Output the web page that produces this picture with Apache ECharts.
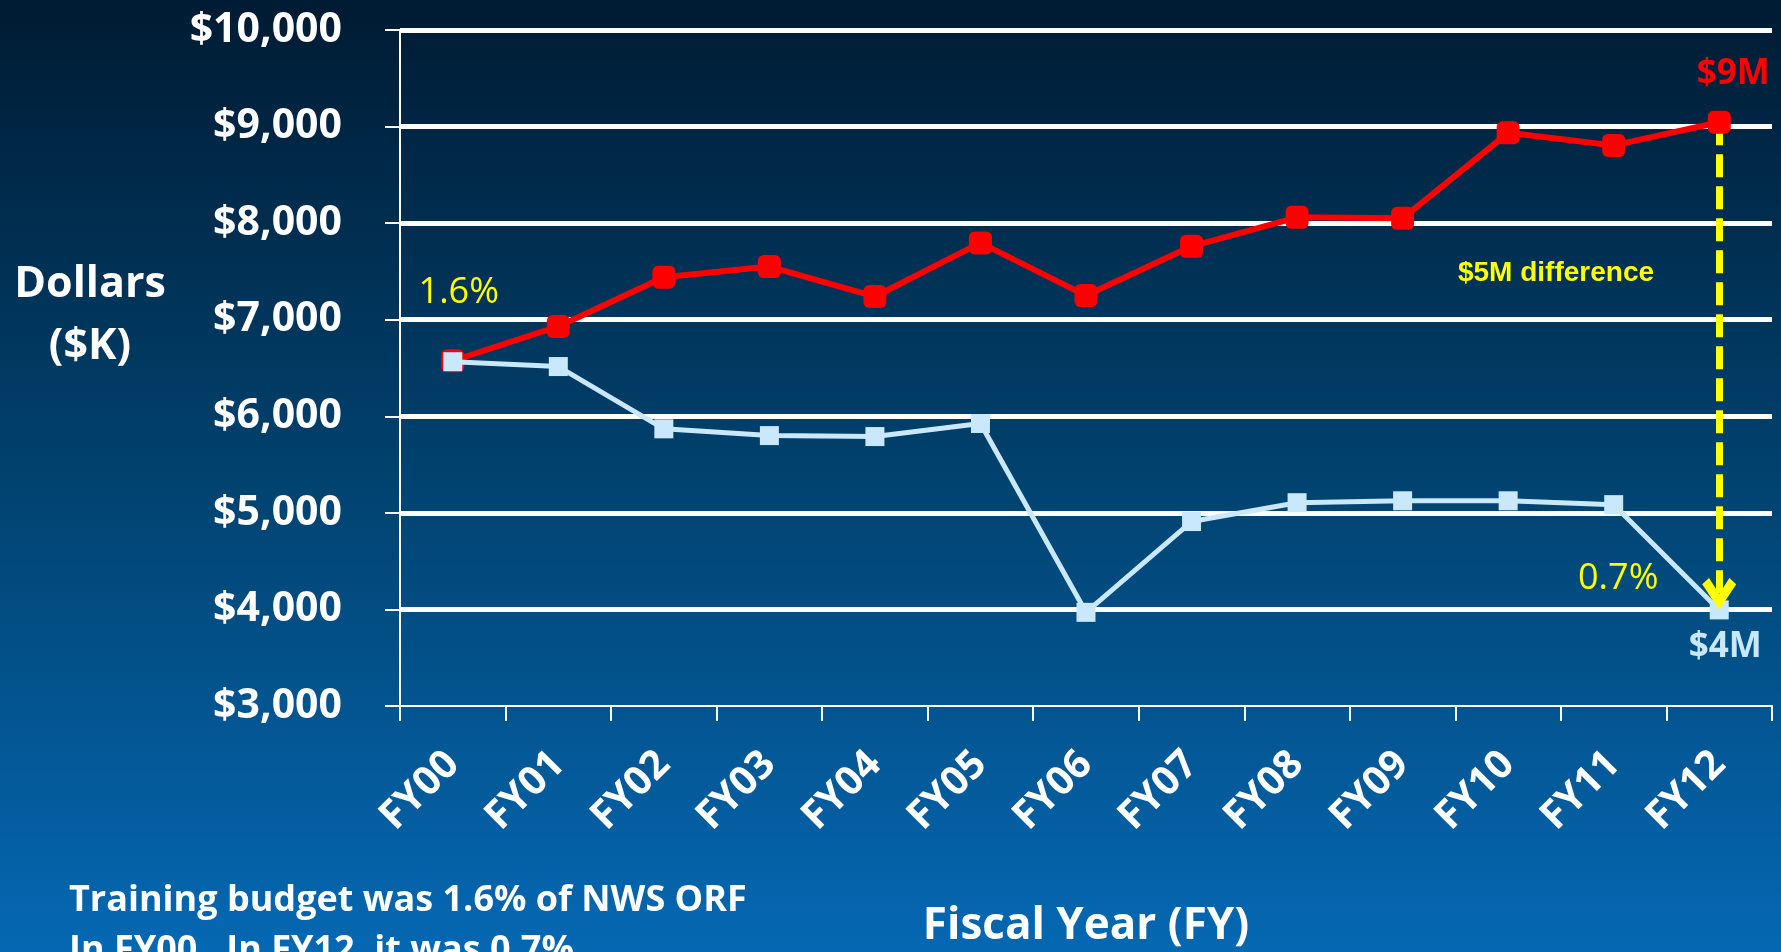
<!DOCTYPE html>
<html>
<head>
<meta charset="utf-8">
<title>NWS training budget FY00-FY12</title>
<script src="https://cdn.jsdelivr.net/npm/echarts@6/dist/echarts.min.js"></script>
<style>
  html, body { margin: 0; padding: 0; }
  #main { width: 1781px; height: 952px; }
</style>
</head>
<body>
<div id="main"></div>
<script>
// categories
const fiscalYears = ['FY00', 'FY01', 'FY02', 'FY03', 'FY04', 'FY05', 'FY06', 'FY07', 'FY08', 'FY09', 'FY10', 'FY11', 'FY12']
// $K if training had stayed at 1.6% of NWS ORF (red)
const atOnePointSix = [6575, 6930, 7440, 7550, 7240, 7795, 7250, 7760, 8060, 8050, 8935, 8805, 9045]
// actual training budget, $K (light blue)
const trainingBudget = [6565, 6515, 5870, 5800, 5790, 5925, 3970, 4910, 5105, 5125, 5125, 5085, 3995]
// y axis ticks
const yTicks = [3000, 4000, 5000, 6000, 7000, 8000, 9000, 10000]

const FONT = '"Open Sans", "Noto Sans", sans-serif'
const RED = '#ff0000'
const ICE = '#c9e8fb'
const YELLOW = '#ffff00'
const last = fiscalYears.length - 1
// open arrow head, pointing down
const CHEVRON = 'path://M0,4 L4,0 L10,10 L16,0 L20,4 L10,20 Z'

const chart = echarts.init(document.getElementById('main'))

const option = {
  animation: false,
  backgroundColor: {
    type: 'linear', x: 0, y: 0, x2: 0, y2: 1,
    colorStops: [
      { offset: 0, color: '#001b33' },
      { offset: 0.5, color: '#01426f' },
      { offset: 1, color: '#0568b3' }
    ]
  },
  grid: { left: 400, right: 9, top: 30, bottom: 246, outerBoundsMode: 'none', containLabel: false },
  xAxis: {
    type: 'category',
    data: fiscalYears,
    boundaryGap: true,
    axisLine: { show: true, lineStyle: { color: '#fff', width: 2 } },
    axisTick: { show: true, length: 15, lineStyle: { color: '#fff', width: 2 } },
    axisLabel: {
      interval: 0,
      rotate: 45,
      margin: 52,
      color: '#fff',
      fontFamily: FONT,
      fontWeight: 'bold',
      fontSize: 40
    },
    name: 'Fiscal Year (FY)',
    nameLocation: 'middle',
    nameGap: 198,
    nameTextStyle: { color: '#fff', fontFamily: FONT, fontWeight: 'bold', fontSize: 44 }
  },
  yAxis: {
    type: 'value',
    min: yTicks[0],
    max: yTicks[yTicks.length - 1],
    interval: yTicks[1] - yTicks[0],
    axisLine: { show: true, lineStyle: { color: '#fff', width: 2 } },
    axisTick: { show: true, length: 15, lineStyle: { color: '#fff', width: 2 } },
    axisLabel: {
      margin: 58,
      color: '#fff',
      fontFamily: FONT,
      fontWeight: 'bold',
      fontSize: 41,
      formatter: v => '$' + v.toLocaleString('en-US')
    },
    splitLine: {
      show: true,
      lineStyle: {
        // first line sits on the x axis, keep it hidden
        color: yTicks.map((v, i) => (i === 0 ? 'rgba(255,255,255,0)' : '#ffffff')),
        width: 5
      }
    }
  },
  series: [
    {
      name: '1.6% of NWS ORF',
      type: 'line',
      z: 2,
      symbol: 'roundRect',
      symbolSize: 23,
      lineStyle: { color: RED, width: 6 },
      itemStyle: { color: RED },
      data: atOnePointSix.map((v, i) =>
        i === last
          ? {
              value: v,
              label: {
                show: true, position: 'top', distance: 19, offset: [14, 0],
                formatter: '$9M', color: RED, fontFamily: FONT, fontWeight: 'bold', fontSize: 35
              }
            }
          : v
      ),
      // dashed drop from the red point to the blue one
      markLine: {
        silent: true,
        z: 1,
        symbol: ['none', 'none'],
        label: { show: false },
        lineStyle: { color: YELLOW, width: 7, type: [23, 9], opacity: 1 },
        data: [[
          { coord: [last, atOnePointSix[last]] },
          { coord: [last, trainingBudget[last]] }
        ]]
      }
    },
    {
      name: 'Training budget',
      type: 'line',
      z: 3,
      symbol: 'rect',
      symbolSize: 19,
      lineStyle: { color: ICE, width: 5 },
      itemStyle: { color: ICE },
      data: trainingBudget.map((v, i) =>
        i === last
          ? {
              value: v,
              label: {
                show: true, position: 'bottom', distance: 10, offset: [6, 0],
                formatter: '$4M', color: ICE, fontFamily: FONT, fontWeight: 'bold', fontSize: 35
              }
            }
          : v
      ),
      markPoint: {
        symbol: 'rect',
        symbolSize: 0,
        silent: true,
        label: { show: true, color: YELLOW, fontFamily: FONT, fontSize: 36 },
        data: [
          { coord: [0, trainingBudget[0]], label: { formatter: '1.6%', offset: [6, -69] } },
          { coord: [last, trainingBudget[last]], label: { formatter: '0.7%', offset: [-101, -31] } },
          {
            coord: [last, trainingBudget[last]],
            symbol: CHEVRON,
            symbolSize: [34, 32],
            symbolOffset: [0, -16],
            itemStyle: { color: YELLOW },
            label: { show: false }
          }
        ]
      }
    }
  ],
  graphic: [
    {
      type: 'text', x: 90, y: 316,
      style: {
        text: 'Dollars\n($K)', align: 'center', verticalAlign: 'middle', lineHeight: 62,
        fill: '#fff', font: 'bold 43px ' + FONT
      }
    },
    {
      type: 'text', x: 1556, y: 273,
      style: {
        text: '$5M difference', align: 'center', verticalAlign: 'middle',
        fill: YELLOW, font: 'bold 28px "Liberation Sans", Arial, sans-serif'
      }
    },
    {
      type: 'text', x: 69, y: 876,
      style: {
        text: 'Training budget was 1.6% of NWS ORF\nIn FY00.  In FY12, it was 0.7%',
        align: 'left', verticalAlign: 'top', lineHeight: 50,
        fill: '#fff', font: 'bold 36px ' + FONT
      }
    }
  ]
}

chart.setOption(option)
</script>
</body>
</html>
